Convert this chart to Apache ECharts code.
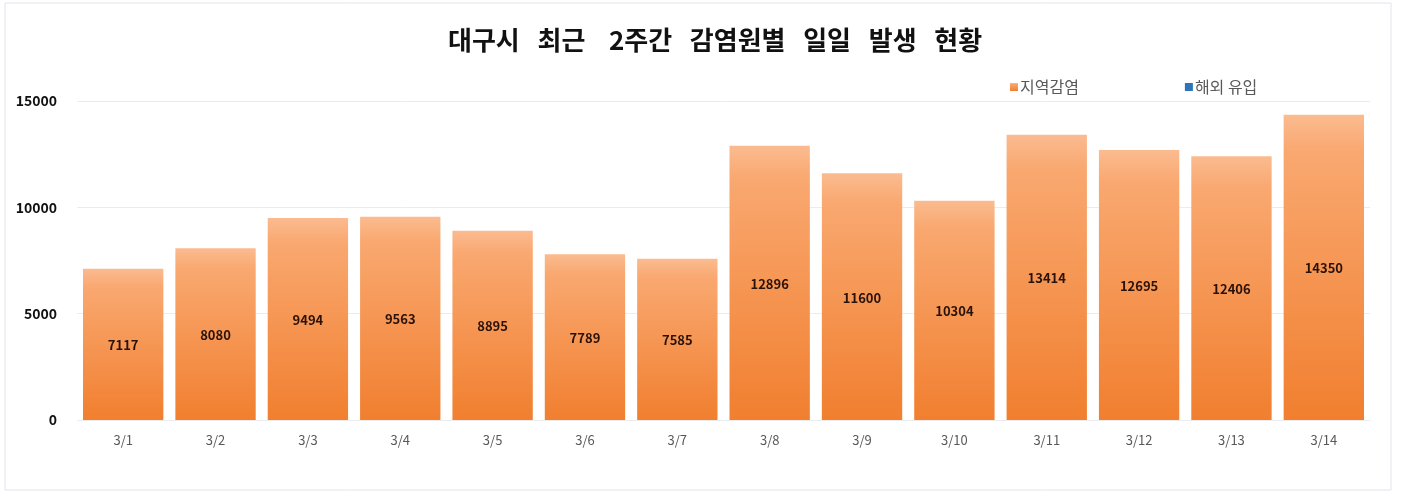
<!DOCTYPE html>
<html>
<head>
<meta charset="utf-8">
<script src="https://cdn.jsdelivr.net/npm/echarts@6/dist/echarts.min.js"></script>
<style>
  html, body { margin: 0; padding: 0; background: #fff; }
  #main { width: 1401px; height: 492px; }
</style>
</head>
<body>
<div id="main"></div>
<script>
var dom = document.getElementById('main');
var myChart = echarts.init(dom);

// data
var days = ['3/1', '3/2', '3/3', '3/4', '3/5', '3/6', '3/7', '3/8', '3/9', '3/10', '3/11', '3/12', '3/13', '3/14'];
var localCases = [7117, 8080, 9494, 9563, 8895, 7789, 7585, 12896, 11600, 10304, 13414, 12695, 12406, 14350];
var importedCases = [0, 0, 0, 0, 0, 0, 0, 0, 0, 0, 0, 0, 0, 0];
var yTicks = [0, 5000, 10000, 15000];

var font = '"Noto Sans CJK KR", "Noto Sans", sans-serif';

var option = {
  animation: false,
  backgroundColor: '#fff',
  title: {
    text: '대구시   최근    2주간   감염원별   일일   발생   현황',
    left: 443,
    top: 22,
    textStyle: { fontFamily: font, fontSize: 26, fontWeight: 'bold', color: '#111' }
  },
  legend: {
    top: 74,
    left: 1005,
    itemGap: 106,
    itemWidth: 8,
    itemHeight: 8,
    icon: 'rect',
    textStyle: { fontFamily: font, fontSize: 16, color: '#595959', padding: [0, 0, 0, -3] },
    data: ['지역감염', '해외 유입']
  },
  graphic: [{
    type: 'rect',
    shape: { x: 5, y: 3, width: 1386, height: 487 },
    style: { fill: 'none', stroke: '#e4e4ec', lineWidth: 1 },
    silent: true
  }],
  grid: { left: 77, right: 31, top: 101, bottom: 72 },
  xAxis: {
    type: 'category',
    data: days,
    axisLine: { show: false },
    axisTick: { show: false },
    axisLabel: { margin: 14, fontFamily: font, fontSize: 13, color: '#595959' }
  },
  yAxis: {
    type: 'value',
    min: yTicks[0],
    max: yTicks[yTicks.length - 1],
    interval: 5000,
    axisLine: { show: false },
    axisTick: { show: false },
    splitLine: { lineStyle: { color: '#ececec' } },
    axisLabel: {
      margin: 20, fontFamily: font, fontSize: 14, fontWeight: 'bold', color: '#111',
      formatter: function (v) { return String(v); }
    }
  },
  series: [
    {
      name: '지역감염',
      type: 'bar',
      stack: 'total',
      barCategoryGap: '13%',
      data: localCases,
      itemStyle: {
        color: new echarts.graphic.LinearGradient(0, 0, 0, 1, [
          { offset: 0, color: '#fbbb90' },
          { offset: 0.12, color: '#f9a870' },
          { offset: 1, color: '#f17f2f' }
        ])
      },
      label: {
        show: true,
        position: 'inside',
        offset: [0, 1],
        fontFamily: font,
        fontSize: 13,
        fontWeight: 'bold',
        color: '#2a1208'
      }
    },
    {
      name: '해외 유입',
      type: 'bar',
      stack: 'total',
      data: importedCases,
      itemStyle: { color: '#2e75b6' }
    }
  ]
};

myChart.setOption(option);
</script>
</body>
</html>
